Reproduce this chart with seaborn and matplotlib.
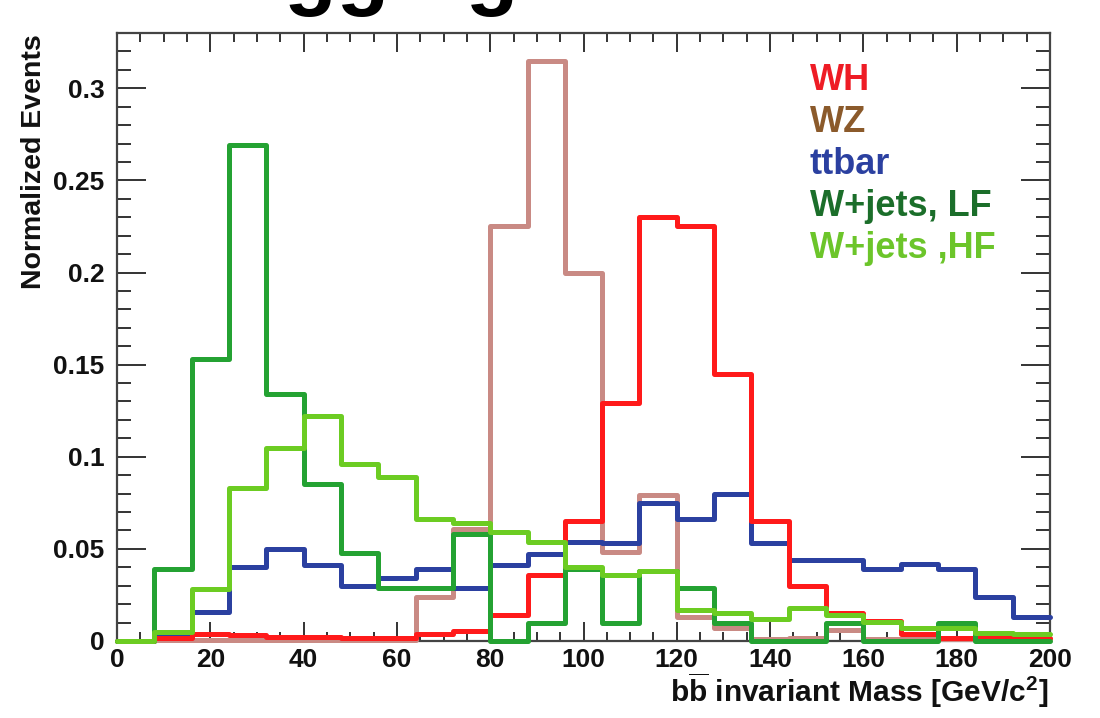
import matplotlib
matplotlib.use("Agg")
import matplotlib.pyplot as plt
from matplotlib.ticker import MultipleLocator, FixedLocator, FixedFormatter
import numpy as np
import pandas as pd
import seaborn as sns

# bin edges of the b-bbar invariant mass histogram (GeV/c^2)
bin_edges = list(range(0, 201, 8))

wh = [0.0, 0.0015, 0.0038, 0.0033, 0.002, 0.002, 0.0015, 0.0015, 0.0038, 0.0056,
      0.014, 0.036, 0.065, 0.129, 0.230, 0.225, 0.145, 0.065, 0.030, 0.015,
      0.011, 0.004, 0.0015, 0.002, 0.0015]
wz = [0.0, 0.0005, 0.0005, 0.0005, 0.0005, 0.0005, 0.0005, 0.0005, 0.024, 0.061,
      0.225, 0.315, 0.200, 0.0485, 0.079, 0.013, 0.007, 0.001, 0.0015, 0.006,
      0.001, 0.001, 0.001, 0.001, 0.001]
ttbar = [0.0, 0.0033, 0.016, 0.040, 0.050, 0.041, 0.030, 0.034, 0.039, 0.029,
         0.041, 0.047, 0.054, 0.053, 0.075, 0.066, 0.080, 0.053, 0.044, 0.044,
         0.039, 0.042, 0.039, 0.024, 0.013]
wjets_lf = [0.0, 0.039, 0.153, 0.269, 0.134, 0.085, 0.048, 0.029, 0.029, 0.058,
            0.0, 0.0097, 0.039, 0.0097, 0.038, 0.029, 0.0097, 0.0, 0.0, 0.0097,
            0.0, 0.0, 0.0097, 0.0, 0.0]
wjets_hf = [0.0, 0.005, 0.028, 0.083, 0.105, 0.122, 0.096, 0.089, 0.066, 0.064,
            0.059, 0.054, 0.040, 0.036, 0.038, 0.017, 0.015, 0.012, 0.018, 0.014,
            0.0105, 0.007, 0.007, 0.0045, 0.004]

legend_labels = ["WH", "WZ", "ttbar", "W+jets, LF", "W+jets ,HF"]
y_ticks = [0, 0.05, 0.1, 0.15, 0.2, 0.25, 0.3]
y_tick_labels = ["0", "0.05", "0.1", "0.15", "0.2", "0.25", "0.3"]
x_ticks = [0, 20, 40, 60, 80, 100, 120, 140, 160, 180, 200]

sns.set_style("ticks")
plt.rcParams["font.family"] = ["Liberation Sans", "DejaVu Sans"]
plt.rcParams["font.weight"] = "bold"
plt.rcParams["mathtext.fontset"] = "custom"
plt.rcParams["mathtext.bf"] = "Liberation Sans:bold"
plt.rcParams["mathtext.rm"] = "Liberation Sans:bold"
plt.rcParams["mathtext.default"] = "bf"

line_colors = {"WH": "#ff1a1a", "WZ": "#c98a84", "ttbar": "#2b40a0",
               "LF": "#24a232", "HF": "#6ccc22"}
text_colors = ["#ee1c25", "#8b5a2b", "#2b40a0", "#1b6e2a", "#6cc52a"]

edges = np.array(bin_edges, dtype=float)
centers = (edges[:-1] + edges[1:]) / 2

fig = plt.figure(figsize=(11, 7.18), dpi=100)
ax = fig.add_axes([117 / 1100, 1 - 641 / 718, (1050 - 117) / 1100, (641 - 33) / 718])

# drawing order as in the original: W+jets on top
series = [("WZ", wz), ("ttbar", ttbar), ("WH", wh), ("LF", wjets_lf), ("HF", wjets_hf)]
for key, vals in series:
    df = pd.DataFrame({"mass": centers, "w": vals})
    sns.histplot(data=df, x="mass", weights="w", bins=bin_edges, element="step",
                 fill=False, color=line_colors[key], linewidth=3.6, ax=ax)

# ROOT draws the outlines over the frame, so zero bins stay visible
for ln in ax.lines:
    ln.set_clip_on(False)
    ln.set_zorder(3)

ax.set_xlim(0, 200)
ax.set_ylim(0, 0.33)
ax.set_xlabel("")
ax.set_ylabel("")

ax.xaxis.set_major_locator(FixedLocator(x_ticks))
ax.xaxis.set_minor_locator(MultipleLocator(5))
ax.yaxis.set_major_locator(FixedLocator(y_ticks))
ax.yaxis.set_major_formatter(FixedFormatter(y_tick_labels))
ax.yaxis.set_minor_locator(MultipleLocator(0.01))

ax.tick_params(axis="both", which="both", direction="in", top=True, right=True,
               colors="#333333", width=1.4)
ax.tick_params(axis="x", which="major", length=13.5, pad=5, labelsize=19, labelcolor="#111111")
ax.tick_params(axis="x", which="minor", length=6.5)
ax.tick_params(axis="y", which="major", length=21, pad=9, labelsize=19, labelcolor="#111111")
ax.tick_params(axis="y", which="minor", length=10)
for lab in ax.get_xticklabels() + ax.get_yticklabels():
    lab.set_fontweight("bold")
for sp in ax.spines.values():
    sp.set_linewidth(1.6)
    sp.set_color("#444444")

# legend as coloured text, ROOT style
for i, (lab, col) in enumerate(zip(legend_labels, text_colors)):
    fig.text(810 / 1100, 1 - (90 + 42 * i) / 718, lab, color=col, fontsize=26,
             fontweight="bold", va="baseline", ha="left")

fig.text(1048 / 1100, 1 - 690 / 718,
         r"b$\overline{\mathbf{b}}$ invariant Mass [GeV/c$^{\mathbf{2}}$]",
         fontsize=21.5, fontweight="bold", ha="right", va="center", color="#111111")
fig.text(34 / 1100, 1 - 34 / 718, "Normalized Events", rotation=90, fontsize=20.5,
         fontweight="bold", ha="center", va="top", color="#111111")

# slide title cut off at the top edge of the picture
fig.text(190 / 1100, 1 + 1 / 718, "Tagging", fontsize=62, fontweight="bold", va="baseline",
         ha="left", color="black")

fig.savefig("out.png", dpi=100)
